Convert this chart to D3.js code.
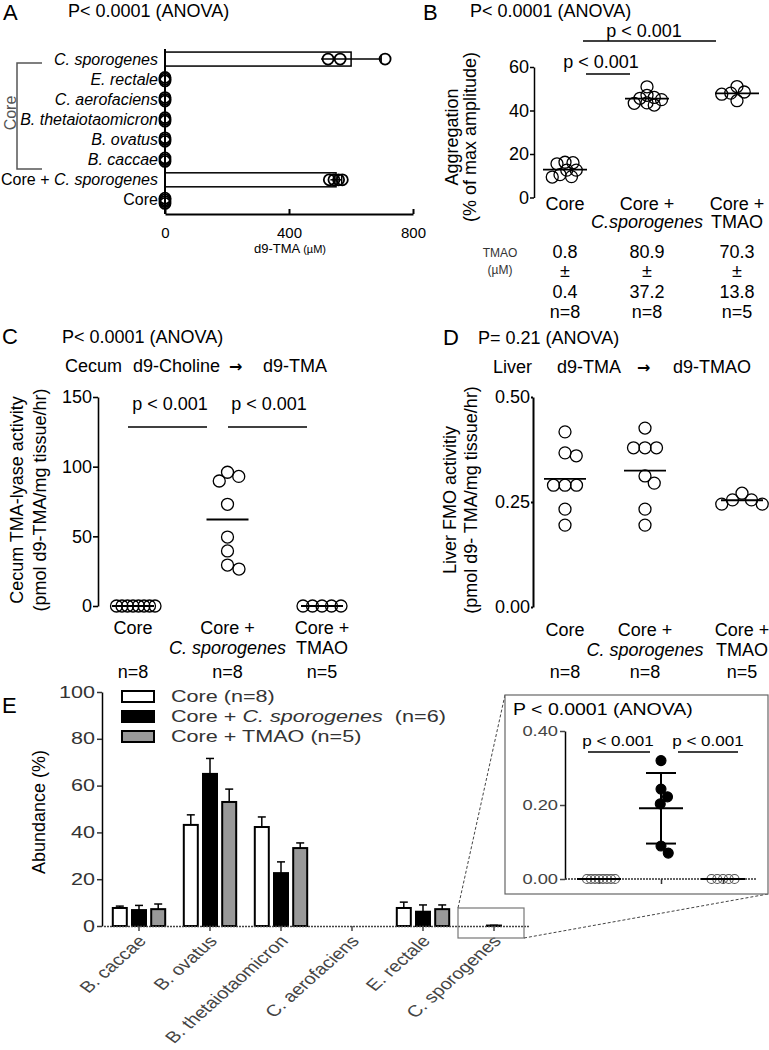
<!DOCTYPE html>
<html>
<head>
<meta charset="utf-8">
<script src="https://cdn.jsdelivr.net/npm/d3@7/dist/d3.min.js"></script>
<style>
html,body{margin:0;padding:0;background:#fff;}
svg{display:block;}
</style>
</head>
<body>
<script>
// ===================== DATA =====================
// Panel A
const aRows = ["C. sporogenes","E. rectale","C. aerofaciens","B. thetaiotaomicron","B. ovatus","B. caccae","Core + C. sporogenes","Core"];
const aValues = [[565,526,710],[0,0,0],[0,0,0],[0,0,0],[0,0,0],[0,0,0],[530,545,560,572],[0,0,0,0]];
const aTicks = [0,400,800];
// Panel B
const bGroups = ["Core","Core + C.sporogenes","Core + TMAO"];
const bCore = [16.2,16.0,15.5,12.6,12.6,10.5,9.6,9.4];
const bCsp = [50.9,47.0,46.0,45.6,45.0,43.5,43.3,42.5];
const bTmao = [51.0,48.5,48.0,47.5,44.5];
const bTicks = [0,20,40,60];
const bTmaoMean = ["0.8","80.9","70.3"];
const bTmaoSd = ["0.4","37.2","13.8"];
const bN = ["n=8","n=8","n=5"];
// Panel C
const cGroups = ["Core","Core + C. sporogenes","Core + TMAO"];
const cCore = [0,0,0,0,0,0,0,0];
const cCsp = [96,93,89.7,73,49.5,39.5,29.4,26.5];
const cTmao = [0,0,0,0,0];
const cTicks = [0,50,100,150];
const cN = ["n=8","n=8","n=5"];
// Panel D
const dGroups = ["Core","Core + C. sporogenes","Core + TMAO"];
const dCore = [0.417,0.367,0.36,0.29,0.29,0.29,0.233,0.195];
const dCsp = [0.426,0.379,0.379,0.379,0.312,0.295,0.233,0.195];
const dTmao = [0.271,0.255,0.255,0.245,0.245];
const dTicks = [0,0.25,0.5];
const dN = ["n=8","n=8","n=5"];
// Panel E
const eCats = ["B. caccae","B. ovatus","B. thetaiotaomicron","C. aerofaciens","E. rectale","C. sporogenes"];
const eSeries = ["Core (n=8)","Core + C. sporogenes  (n=6)","Core + TMAO (n=5)"];
const eCoreMean = [7.7,43.2,42.3,0,7.7,0];
const eCoreErr  = [0.8,4.3,4.3,0,2.5,0];
const eCspMean  = [6.8,65.0,22.6,0,6.1,0.19];
const eCspErr   = [2.0,6.6,4.8,0,2.9,0.1];
const eTmaoMean = [7.2,53.0,33.3,0,7.2,0];
const eTmaoErr  = [2.2,5.5,2.2,0,1.8,0];
const eTicks = [0,20,40,60,80,100];
// Inset (C. sporogenes abundance)
const iGroups = ["Core","Core + C. sporogenes","Core + TMAO"];
const iCore = [0,0,0,0,0,0,0,0];
const iCsp = [0.32,0.243,0.222,0.203,0.089,0.07];
const iTmao = [0,0,0,0,0];
const iTicks = [0,0.2,0.4];

// ===================== HELPERS =====================
const W = 769, H = 1050;
const FONT = '"Liberation Sans", Arial, Helvetica, sans-serif';
const svg = d3.select("body").append("svg").attr("width", W).attr("height", H).attr("font-family", FONT);
svg.append("rect").attr("width", W).attr("height", H).attr("fill", "#fff");

function rich(t, s) {
  const re = /([A-Z]\.\s?[a-z]+)/g;
  let last = 0, m;
  while ((m = re.exec(s))) {
    if (m.index > last) t.append("tspan").text(s.slice(last, m.index));
    t.append("tspan").attr("font-style", "italic").text(m[1]);
    last = m.index + m[1].length;
  }
  if (last < s.length) t.append("tspan").text(s.slice(last));
  return t;
}
function label(g, x, y, s, size, anchor, fill) {
  const t = g.append("text").attr("x", x).attr("y", y).attr("font-size", size)
    .attr("text-anchor", anchor || "start").attr("fill", fill || "#000").style("white-space", "pre");
  return rich(t, s);
}
function vlabel(g, x, y, s, size, fill) {
  return g.append("text").attr("transform", `translate(${x},${y}) rotate(-90)`)
    .attr("text-anchor", "middle").attr("dy", "0.35em").attr("font-size", size)
    .attr("fill", fill || "#000").text(s);
}
function swarmOffsets(positions, d, step) {
  step = step || 0.25;
  const placed = [];
  return positions.map(p => {
    let off = 0;
    for (let k = 0; k < 4000; k++) {
      const cands = k === 0 ? [0] : [k * step, -k * step];
      let ok = null;
      for (const c of cands) {
        if (placed.every(q => (q.o - c) ** 2 + (q.p - p) ** 2 >= d * d - 1e-6)) { ok = c; break; }
      }
      if (ok !== null) { off = ok; break; }
    }
    placed.push({ p: p, o: off });
    return off;
  });
}
function styleAxis(ax, size, sw, color) {
  ax.attr("font-family", FONT).attr("font-size", size);
  ax.selectAll("path,line").attr("stroke", color || "#000").attr("stroke-width", sw);
  ax.selectAll("text").attr("fill", color || "#000");
}
function line(g, x1, y1, x2, y2, sw, color, dash) {
  const l = g.append("line").attr("x1", x1).attr("y1", y1).attr("x2", x2).attr("y2", y2)
    .attr("stroke", color || "#000").attr("stroke-width", sw || 1.5);
  if (dash) l.attr("stroke-dasharray", dash);
  return l;
}
function dotPlot(g, groups, data, x, y, opts) {
  groups.forEach((gname, i) => {
    const vals = data[i], cx = x(gname);
    const offs = swarmOffsets(vals.map(v => y(v)), opts.dist[i]);
    g.selectAll(null).data(vals).enter().append("circle")
      .attr("cx", (v, j) => cx + offs[j]).attr("cy", v => y(v)).attr("r", opts.r)
      .attr("fill", "none").attr("stroke", "#000").attr("stroke-width", opts.sw || 1.3);
    const m = d3.mean(vals);
    line(g, cx - opts.half, y(m), cx + opts.half, y(m), 1.8);
  });
}
function groupLabels(g, groups, x, y1, y2, size) {
  groups.forEach(gname => {
    const parts = gname.split(" + ");
    if (parts.length === 1) label(g, x(gname), y1, gname, size, "middle");
    else { label(g, x(gname), y1, "Core +", size, "middle"); label(g, x(gname), y2, parts[1], size, "middle"); }
  });
}

// ===================== PANEL A =====================
const gA = svg.append("g");
label(gA, 3, 20, "A", 22);
label(gA, 68, 17, "P< 0.0001 (ANOVA)", 18);
const xA = d3.scaleLinear().domain([0, 800]).range([165, 413]);
const yA = d3.scaleBand().domain(aRows).range([49, 210]);
const rowC = r => yA(r) + yA.bandwidth() / 2;
aRows.forEach((r, i) => {
  const vals = aValues[i], m = d3.mean(vals), cy = rowC(r);
  if (m > 0) {
    gA.append("rect").attr("x", xA(0)).attr("y", cy - 7).attr("width", xA(m) - xA(0)).attr("height", 14)
      .attr("fill", "#fff").attr("stroke", "#000").attr("stroke-width", 1.5);
    const sd = d3.deviation(vals);
    line(gA, xA(m - sd), cy, xA(m + sd), cy, 1.5);
    line(gA, xA(m + sd), cy - 4, xA(m + sd), cy + 4, 1.5);
  }
  const offs = swarmOffsets(vals.map(v => xA(v)), m > 0 ? 2 : 1.6);
  gA.selectAll(null).data(vals).enter().append("circle")
    .attr("cx", v => xA(v)).attr("cy", (v, j) => cy + offs[j]).attr("r", 5.5)
    .attr("fill", "none").attr("stroke", "#000").attr("stroke-width", 1.8);
  label(gA, 158, cy + 5.5, r, 16, "end");
});
line(gA, xA(0), 49, xA(0), 214, 2);
const axA = gA.append("g").attr("transform", "translate(0,214)")
  .call(d3.axisBottom(xA).tickValues(aTicks).tickSizeInner(-5).tickSizeOuter(0).tickPadding(13));
styleAxis(axA, 15, 2);
{
  const t = gA.append("text").attr("x", 290).attr("y", 253).attr("text-anchor", "middle").attr("font-size", 13);
  t.append("tspan").text("d9-TMA ");
  t.append("tspan").attr("font-size", 11).text("(\u00b5M)");
}
// Core bracket
gA.append("path").attr("d", "M42,63H17V169H42").attr("fill", "none").attr("stroke", "#555").attr("stroke-width", 1.5);
vlabel(gA, 10, 113, "Core", 16, "#555");

// ===================== PANEL B =====================
const gB = svg.append("g");
label(gB, 423, 20, "B", 22);
label(gB, 470, 17, "P< 0.0001 (ANOVA)", 18);
const xB = d3.scaleOrdinal().domain(bGroups).range([565, 647, 737]);
const yB = d3.scaleLinear().domain([0, 60]).range([197.5, 67]);
const axB = gB.append("g").attr("transform", "translate(534,0)")
  .call(d3.axisLeft(yB).tickValues(bTicks).tickSize(4).tickSizeOuter(0).tickPadding(1));
styleAxis(axB, 18, 1.5);
vlabel(gB, 452, 137, "Aggregation", 18);
vlabel(gB, 470, 137, "(% of max amplitude)", 18);
dotPlot(gB, bGroups, [bCore, bCsp, bTmao], xB, yB, { r: 6, dist: [8, 7.5, 9], half: 22 });
// significance
label(gB, 601, 68, "p < 0.001", 18, "middle");
line(gB, 586, 74, 630, 74, 1.5);
label(gB, 644, 37, "p < 0.001", 18, "middle");
line(gB, 583, 41, 716, 41, 1.5);
groupLabels(gB, bGroups, xB, 210, 228, 18);
// TMAO table
label(gB, 500, 257, "TMAO", 12, "middle", "#333");
label(gB, 500, 274, "(\u00b5M)", 12, "middle", "#333");
bGroups.forEach((gn, i) => {
  label(gB, xB(gn), 258, bTmaoMean[i], 18, "middle");
  label(gB, xB(gn), 277, "\u00b1", 18, "middle");
  label(gB, xB(gn), 298, bTmaoSd[i], 18, "middle");
  label(gB, xB(gn), 318, bN[i], 18, "middle");
});

// ===================== PANEL C =====================
const gC = svg.append("g");
label(gC, 2, 344, "C", 22);
label(gC, 62, 343, "P< 0.0001 (ANOVA)", 18);
{
  const t = gC.append("text").attr("y", 372).attr("font-size", 18);
  t.append("tspan").attr("x", 65).text("Cecum");
  t.append("tspan").attr("x", 133).text("d9-Choline");
  t.append("tspan").attr("x", 229).attr("font-family", "DejaVu Sans").attr("font-weight", "bold").attr("font-size", 16).text("\u2192");
  t.append("tspan").attr("x", 263).text("d9-TMA");
}
const xC = d3.scalePoint().domain(cGroups).range([133, 322]);
const yC = d3.scaleLinear().domain([0, 150]).range([606, 397]);
const axC = gC.append("g").attr("transform", "translate(98,0)")
  .call(d3.axisLeft(yC).tickValues(cTicks).tickSize(5).tickSizeOuter(0).tickPadding(1));
styleAxis(axC, 18, 1.6);
vlabel(gC, 17, 500, "Cecum TMA-lyase activity", 18);
vlabel(gC, 40, 500, "(pmol d9-TMA/mg tissue/hr)", 18);
dotPlot(gC, cGroups, [cCore, cCsp, cTmao], xC, yC, { r: 6, dist: [5.3, 12, 9.5], half: 21 });
label(gC, 170, 410, "p < 0.001", 18, "middle");
line(gC, 128, 427, 207, 427, 1.5);
label(gC, 269, 410, "p < 0.001", 18, "middle");
line(gC, 228, 427, 307, 427, 1.5);
groupLabels(gC, cGroups, xC, 634, 654, 18);
cGroups.forEach((gn, i) => label(gC, xC(gn), 678, cN[i], 18, "middle"));

// ===================== PANEL D =====================
const gD = svg.append("g");
label(gD, 443, 345, "D", 22);
label(gD, 478, 344, "P= 0.21 (ANOVA)", 18);
{
  const t = gD.append("text").attr("y", 373).attr("font-size", 18);
  t.append("tspan").attr("x", 493).text("Liver");
  t.append("tspan").attr("x", 557).text("d9-TMA");
  t.append("tspan").attr("x", 637).attr("font-family", "DejaVu Sans").attr("font-weight", "bold").attr("font-size", 16).text("\u2192");
  t.append("tspan").attr("x", 673).text("d9-TMAO");
}
const xD = d3.scaleOrdinal().domain(dGroups).range([565, 645, 742]);
const yD = d3.scaleLinear().domain([0, 0.5]).range([607, 397]);
const axD = gD.append("g").attr("transform", "translate(533,0)")
  .call(d3.axisLeft(yD).tickValues(dTicks).tickFormat(d3.format(".2f")).tickSize(2).tickSizeOuter(0).tickPadding(1));
styleAxis(axD, 18, 2);
vlabel(gD, 450, 500, "Liver FMO activitiy", 18);
vlabel(gD, 471, 500, "(pmol d9- TMA/mg tissue/hr)", 18);
dotPlot(gD, dGroups, [dCore, dCsp, dTmao], xD, yD, { r: 6, dist: [11.5, 11.5, 11.5], half: 21 });
groupLabels(gD, dGroups, xD, 636, 656, 18);
dGroups.forEach((gn, i) => label(gD, xD(gn), 678, dN[i], 18, "middle"));

// ===================== PANEL E =====================
const gE = svg.append("g");
label(gE, 2, 713, "E", 22);
const SX = 1.35;
const xE = d3.scaleBand().domain(eCats).range([103.5, 529.5]);
const xSub = d3.scaleBand().domain(eSeries).range([9.3, 61.7]).paddingInner(0.271);
const yE = d3.scaleLinear().domain([0, 100]).range([926, 692]);
const eMeans = [eCoreMean, eCspMean, eTmaoMean];
const eErrs = [eCoreErr, eCspErr, eTmaoErr];
const eFills = ["#fff", "#000", "#999"];
eSeries.forEach((s, si) => {
  eCats.forEach((c, ci) => {
    const m = eMeans[si][ci], e = eErrs[si][ci];
    const x0 = xE(c) + xSub(s), bw = xSub.bandwidth(), cx = x0 + bw / 2;
    if (e > 0) {
      line(gE, cx, yE(m), cx, yE(m + e), 1.5);
      line(gE, cx - 4, yE(m + e), cx + 4, yE(m + e), 1.5);
    }
    if (m > 0) {
      gE.append("rect").attr("x", x0).attr("y", yE(m)).attr("width", bw).attr("height", yE(0) - yE(m))
        .attr("fill", eFills[si]).attr("stroke", "#000").attr("stroke-width", 2);
    }
  });
});
const axEy = gE.append("g").attr("transform", "translate(102,0)")
  .call(d3.axisLeft(yE).tickValues(eTicks).tickSize(5).tickSizeOuter(0).tickPadding(2));
styleAxis(axEy, 16, 1.5, "#333");
axEy.select(".domain").attr("stroke", "#000");
axEy.selectAll(".tick text").each(function () {
  const t = d3.select(this), xv = +t.attr("x");
  t.attr("x", 0).attr("transform", `translate(${xv},0) scale(${SX},1)`);
});
const axEx = gE.append("g").attr("transform", "translate(0,926)")
  .call(d3.axisBottom(xE).tickSize(5).tickSizeOuter(0));
styleAxis(axEx, 16, 1.5, "#444");
axEx.select(".domain").attr("stroke-dasharray", "2,1");
axEx.selectAll(".tick text").attr("y", null).attr("dy", "0.35em").attr("text-anchor", "end")
  .attr("transform", `translate(3,12) scale(1.25,1) rotate(-48)`);
vlabel(gE, 39, 812, "Abundance (%)", 18);
// legend
eSeries.forEach((s, si) => {
  const yy = 691 + si * 20;
  gE.append("rect").attr("x", 122).attr("y", yy).attr("width", 32).attr("height", 11)
    .attr("fill", eFills[si]).attr("stroke", "#000").attr("stroke-width", 2);
  const t = gE.append("text").attr("transform", `translate(171,${yy + 11}) scale(${SX},1)`)
    .attr("font-size", 16).attr("fill", "#333").style("white-space", "pre");
  rich(t, s);
});
// zoom box and connectors
gE.append("rect").attr("x", 458).attr("y", 908).attr("width", 66).attr("height", 30)
  .attr("fill", "none").attr("stroke", "#777").attr("stroke-width", 1.2);
line(gE, 505, 695, 458, 908, 1, "#444", "3,2");
line(gE, 524, 938, 768, 894, 1, "#444", "3,2");

// ===================== INSET =====================
const gI = svg.append("g");
gI.append("rect").attr("x", 505).attr("y", 695).attr("width", 263).attr("height", 199)
  .attr("fill", "#fff").attr("stroke", "#666").attr("stroke-width", 1.2);
const SI = 1.22;
gI.append("text").attr("transform", `translate(513,715) scale(${SI},1)`).attr("font-size", 16).text("P < 0.0001 (ANOVA)");
const yI = d3.scaleLinear().domain([0, 0.4]).range([879, 731]);
const xI = d3.scalePoint().domain(iGroups).range([599, 723]);
const axIy = gI.append("g").attr("transform", "translate(565,0)")
  .call(d3.axisLeft(yI).tickValues(iTicks).tickFormat(d3.format(".2f")).tickSize(5).tickSizeOuter(0).tickPadding(2));
styleAxis(axIy, 15, 1.5, "#444");
axIy.select(".domain").attr("stroke", "#000");
axIy.selectAll(".tick text").each(function () {
  const t = d3.select(this), xv = +t.attr("x");
  t.attr("x", 0).attr("transform", `translate(${xv},0) scale(${SI},1)`);
});
line(gI, 565, 879, 757, 879, 1.5, "#333", "2,1");
const axIx = gI.append("g").attr("transform", "translate(0,879)")
  .call(d3.axisBottom(xI).tickSize(5).tickFormat(""));
axIx.select(".domain").remove();
axIx.selectAll("line").attr("stroke", "#333").attr("stroke-width", 1.5);
// points
const iData = [iCore, iCsp, iTmao];
const iDist = [4, 10, 5.75];
iGroups.forEach((gn, i) => {
  const vals = iData[i], cx = xI(gn);
  const filled = i === 1;
  const offs = swarmOffsets(vals.map(v => yI(v)), iDist[i]);
  gI.selectAll(null).data(vals).enter().append("circle")
    .attr("cx", (v, j) => cx + offs[j]).attr("cy", v => yI(v)).attr("r", filled ? 5 : 4.5)
    .attr("fill", filled ? "#000" : "none").attr("stroke", filled ? "#000" : "#555").attr("stroke-width", 1.1);
  const m = d3.mean(vals);
  line(gI, cx - 22, yI(m), cx + 22, yI(m), 2);
  if (filled) {
    const sd = d3.deviation(vals);
    line(gI, cx, yI(m - sd), cx, yI(m + sd), 2);
    line(gI, cx - 15, yI(m + sd), cx + 15, yI(m + sd), 2);
    line(gI, cx - 15, yI(m - sd), cx + 15, yI(m - sd), 2);
  }
});
gI.append("text").attr("transform", `translate(618,746) scale(${SI},1)`).attr("text-anchor", "middle").attr("font-size", 14).text("p < 0.001");
line(gI, 588, 752, 650, 752, 1.5);
gI.append("text").attr("transform", `translate(708,746) scale(${SI},1)`).attr("text-anchor", "middle").attr("font-size", 14).text("p < 0.001");
line(gI, 678, 752, 738, 752, 1.5);
</script>
</body>
</html>
